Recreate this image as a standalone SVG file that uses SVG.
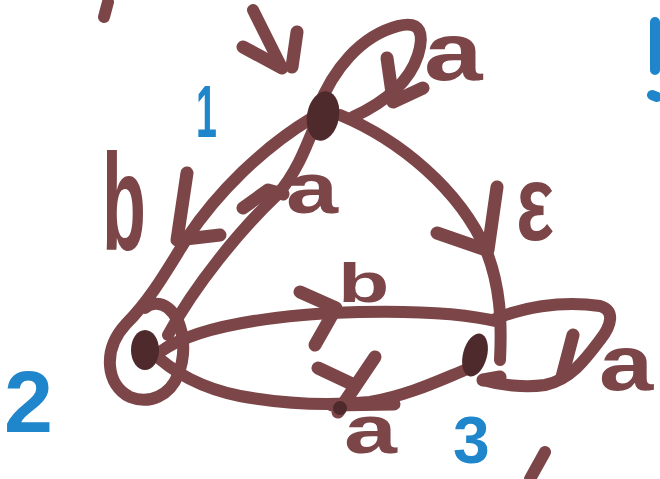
<svg xmlns="http://www.w3.org/2000/svg" width="660" height="479" viewBox="0 0 660 479">
<style>
.ln{fill:none;stroke:#7c4649;stroke-width:12;stroke-linecap:round;stroke-linejoin:round}
.hd{fill:none;stroke:#7c4649;stroke-width:13;stroke-linecap:round;stroke-linejoin:round}
.nd{fill:#4f2a2d}
.lb{font-family:"Liberation Sans",Arial,sans-serif;font-weight:bold;fill:#7c4649}
.bl{font-family:"Liberation Sans",Arial,sans-serif;font-weight:bold;fill:#1f86cc}
.bs{fill:none;stroke:#1f86cc;stroke-width:10;stroke-linecap:round}
</style>
<rect width="660" height="479" fill="#ffffff"/>
<g id="connectors">
  <!-- start arrow -->
  <path class="ln" d="M253,10 L282,68"/>
  <path class="hd" d="M243,47 L282,68 M297,32 L292,67"/>
  <!-- self loop 1 -->
  <path class="ln" d="M318,108 C333,70 360,36 398,26 C422,20 424,35 418,55 C410,80 390,100 353,117"/>
  <path class="hd" d="M387,58 L393,100 M423,88 L393,102"/>
  <!-- 1 to 3 epsilon -->
  <path class="ln" d="M340,115 C400,140 460,190 486,250 C500,285 502,320 500,360"/>
  <path class="hd" d="M437,233 L486,250 M497,187 L488,250"/>
  <!-- 1 to 2 b (outer, wrapping node 2) -->
  <path class="ln" d="M312,118 C262,148 217,193 187,238 C166,272 150,300 126,324 C102,350 106,385 130,397 C150,405 170,395 178,375 C188,350 183,320 168,308 C160,302 150,303 145,308"/>
  <path class="hd" d="M187,173 L177,240 L220,235"/>
  <!-- 2 to 1 a (inner) -->
  <path class="ln" d="M168,335 C195,285 240,230 277,195 C295,175 305,150 315,125"/>
  <path class="hd" d="M243,208 L268,190 L283,194"/>
  <!-- 2 to 3 b -->
  <path class="ln" d="M160,352 C190,330 250,318 330,313 C400,310 460,312 500,322"/>
  <path class="hd" d="M300,292 L336,308 L315,345"/>
  <!-- 3 to 2 a -->
  <path class="ln" d="M470,368 C440,380 410,395 370,402 C330,406 290,405 240,396 C200,388 170,370 150,350"/>
  <path class="hd" d="M375,357 L338,412 M318,368 L352,384 M332,405 L394,404"/>
  <circle class="nd" cx="340" cy="408" r="7"/>
  <!-- self loop 3 -->
  <path class="ln" d="M493,320 C520,308 560,300 600,306 C615,310 612,325 600,340 C585,360 570,380 545,385 C525,388 500,385 483,380"/>
  <path class="hd" d="M573,335 L562,377 M483,380 L500,377"/>
</g>
<g id="node1"><ellipse class="nd" cx="323" cy="116" rx="16" ry="25" transform="rotate(10 323 116)"/></g>
<g id="node2"><ellipse class="nd" cx="145" cy="350" rx="14" ry="20"/></g>
<g id="node3"><ellipse class="nd" cx="475" cy="355" rx="12" ry="22" transform="rotate(15 475 355)"/></g>
<g id="labels">
  <text class="lb" font-size="81" transform="translate(424,80) scale(1.3,1)">a</text>
  <text class="lb" font-size="72" transform="translate(102,250) scale(1,1.9)">b</text>
  <text class="lb" font-size="72" transform="translate(286,213) scale(1.3,1)">a</text>
  <text class="lb" font-size="80" transform="translate(516,240) scale(1,1.35)">ε</text>
  <text class="lb" font-size="56" transform="translate(338,302) scale(1.5,1)">b</text>
  <text class="lb" font-size="68" transform="translate(344,453) scale(1.4,1)">a</text>
  <text class="lb" font-size="78" transform="translate(599,390) scale(1.25,1)">a</text>
  <text class="bl" font-size="75" transform="translate(196,137) scale(0.5,1)">1</text>
  <text class="bl" font-size="88" x="4" y="432">2</text>
  <text class="bl" font-size="66" x="453" y="463">3</text>
</g>
<g id="marks">
  <path class="ln" d="M108,2 L104,17 M545,452 L530,479"/>
  <path class="bs" d="M655,22 L655,70 M652,95 L657,97"/>
</g>
</svg>
